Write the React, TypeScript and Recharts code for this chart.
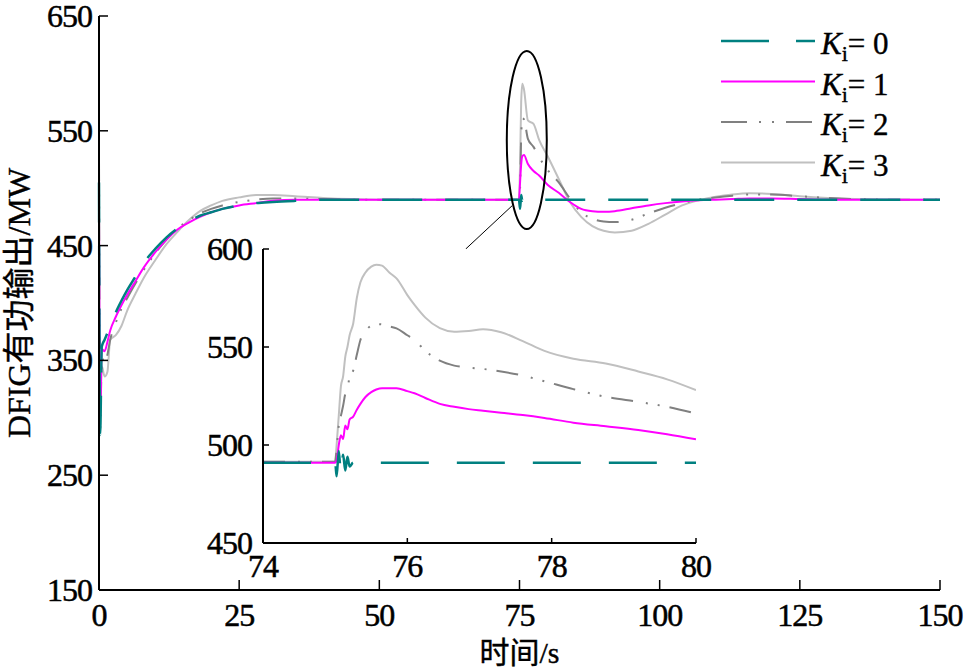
import React from 'react';
import { LineChart, Line, XAxis, YAxis, Legend, ReferenceDot, ReferenceLine, CartesianGrid } from 'recharts';

// 全程数据 (0-150 s)
const time = [0, 0.2, 0.5, 1, 1.5, 2, 3, 4, 5, 6.5, 8, 10, 12, 14, 16, 18, 20, 22, 25, 28, 31, 35, 40, 45, 50, 60, 70, 74.9, 75.1, 75.3, 75.5, 75.8, 76.5, 77.5, 78.5, 80, 82, 84, 86, 88, 90, 92, 95, 98, 101, 104, 107, 110, 113, 116, 120, 125, 130, 135, 140, 150];
const ki0 = [505, 285, 362, 368, 374, 380, 392, 402, 411, 423, 435, 447, 457, 465, 471, 476, 479, 482, 485, 487, 488, 489, 490, 490, 490, 490, 490, 490, 482, 494, 489, 490, 490, 490, 490, 490, 490, 490, 490, 490, 490, 490, 490, 490, 490, 490, 490, 490, 490, 490, 490, 490, 490, 490, 490, 490];
const ki1 = [480, 300, 360, 358, 366, 376, 388, 398, 407, 419, 431, 444, 455, 464, 470, 475, 479, 482, 485, 487, 489, 490, 490, 490, 490, 490, 490, 490, 505, 521, 528, 529, 521, 515, 511, 503, 496, 488, 482, 480, 479.5, 480, 482.5, 485, 487, 488.5, 489.5, 490, 490.5, 491, 491, 490.5, 490, 490, 490, 490];
const ki2 = [525, 290, 352, 348, 355, 368, 383, 395, 404, 417, 429, 443, 455, 465, 472, 478, 482, 485, 488, 490, 491, 491, 490.5, 490, 490, 490, 490, 490, 500, 545, 561, 560, 543, 536, 527, 516, 505, 491, 479, 473.5, 471, 470.5, 472.5, 478, 483, 487, 490, 492, 493.5, 494.5, 494.5, 493, 491.5, 490.5, 490, 490];
const ki3 = [530, 300, 345, 336, 340, 368, 372, 380, 393, 408, 422, 437, 451, 462, 472, 480, 485, 489, 492, 494, 494, 493, 491.5, 490.5, 490, 490, 490, 490, 520, 575, 591, 586, 559, 556, 542, 528, 508, 488, 475, 467, 463, 461.5, 463, 469, 477, 485, 489.5, 492.5, 494.5, 495.5, 495, 493, 491.5, 490.5, 490, 490];

// 局部放大数据 (74-80 s)
const insetTime = [74, 74.5, 75, 75.02, 75.05, 75.08, 75.11, 75.14, 75.17, 75.2, 75.25, 75.3, 75.35, 75.42, 75.5, 75.57, 75.65, 75.75, 75.85, 76, 76.1, 76.25, 76.45, 76.65, 76.85, 77.05, 77.3, 77.6, 77.9, 78.3, 78.75, 79.2, 79.6, 80];
const insetK0 = [491, 491, 491, 484, 497, 485, 495, 487, 494, 489, 491, 491, 491, 491, 491, 491, 491, 491, 491, 491, 491, 491, 491, 491, 491, 491, 491, 491, 491, 491, 491, 491, 491, 491];
const insetK1 = [491, 491, 491, 492, 500, 505, 503, 510, 508, 513, 514.5, 518, 521, 524.5, 527, 528.3, 529, 529, 529, 527.5, 526.4, 524, 521, 519.5, 518.3, 517.5, 516.5, 515.3, 513.8, 511.4, 509.6, 507.7, 505.5, 502.9];
const insetK2 = [491.5, 491.5, 491.5, 498, 510, 515, 520, 526, 528, 535, 538, 546, 553.6, 558, 561, 561.7, 561.5, 560.5, 559.5, 556, 553.6, 548, 543, 540.5, 539.5, 538.8, 537.5, 535.4, 532.5, 528.5, 524.6, 522, 519.5, 516];
const insetK3 = [491.5, 491.5, 491.5, 500, 515, 530, 535, 545, 550, 556, 562, 575, 583, 588, 591, 592, 591.5, 588, 585, 576.5, 571.5, 565, 559.6, 557.8, 558.2, 559, 557.5, 553, 548, 544, 541.6, 537.5, 533.5, 528];

const mainTicksX = [0, 25, 50, 75, 100, 125, 150];
const mainTicksY = [150, 250, 350, 450, 550, 650];
const insetTicksX = [74, 76, 78, 80];
const insetTicksY = [450, 500, 550, 600];
const kiLabels = ['0', '1', '2', '3'];

const mainData = time.map((t, i) => ({ t, k0: ki0[i], k1: ki1[i], k2: ki2[i], k3: ki3[i] }));
const insetData = insetTime.map((t, i) => ({ t, k0: insetK0[i], k1: insetK1[i], k2: insetK2[i], k3: insetK3[i] }));

const FONT = '"Times New Roman", "Liberation Serif", "Noto Sans CJK SC", serif';
const styles = [
  { key: 'k0', color: '#008080', dash: '40 23', insetDash: '48 28', legendDash: '48 27', w: 2.5 },
  { key: 'k1', color: '#ff00ff', dash: undefined, insetDash: undefined, legendDash: undefined, w: 2 },
  { key: 'k2', color: '#808080', dash: '22 13 2 10 2 10', insetDash: '22 13 2 10 2 10', legendDash: '26 12 2 11 2 12', w: 2 },
  { key: 'k3', color: '#c0c0c0', dash: undefined, insetDash: undefined, legendDash: undefined, w: 2 },
];

const makeXTick = (len: number, off: number) => (props: any) => {
  const { x, y, payload } = props;
  return (
    <g>
      <line x1={x} y1={y} x2={x} y2={y - len} stroke="#000" strokeWidth={1.5} />
      <text x={x} y={y + off} textAnchor="middle" fontFamily={FONT} fontSize={32} letterSpacing={-1} fill="#000" stroke="#000" strokeWidth={0.5}>
        {payload.value}
      </text>
    </g>
  );
};

const makeYTick = (len: number, off: number) => (props: any) => {
  const { x, y, payload } = props;
  return (
    <g>
      <line x1={x} y1={y} x2={x + len} y2={y} stroke="#000" strokeWidth={1.5} />
      <text x={x - off} y={y + 11} textAnchor="end" fontFamily={FONT} fontSize={32} letterSpacing={-1} fill="#000" stroke="#000" strokeWidth={0.5}>
        {payload.value}
      </text>
    </g>
  );
};

const renderLegend = () => (
  <svg width={200} height={170}>
    {styles.map((s, i) => {
      const y = 21 + i * 40.5;
      return (
        <g key={s.key}>
          <line x1={5} y1={y} x2={99} y2={y} stroke={s.color} strokeWidth={s.w} strokeDasharray={s.legendDash} />
          <text x={105} y={y + 13} fontFamily={FONT} fontSize={31} fill="#000" stroke="#000" strokeWidth={0.4}>
            <tspan fontStyle="italic">K</tspan>
            <tspan fontSize={22} dy={7}>i</tspan>
            <tspan dy={-7}>= {kiLabels[i]}</tspan>
          </text>
        </g>
      );
    })}
  </svg>
);

const axisLine = { stroke: '#000', strokeWidth: 2 };

export default function App() {
  return (
    <div style={{ position: 'absolute', left: 0, top: 0, width: 964, height: 671, background: '#fff' }}>
      <LineChart width={964} height={671} data={mainData} margin={{ top: 16, right: 24, bottom: 41, left: 39 }}>
        <XAxis
          dataKey="t"
          type="number"
          domain={[0, 150]}
          ticks={mainTicksX}
          interval={0}
          tickLine={false}
          tickSize={0}
          tickMargin={0}
          height={40}
          axisLine={axisLine}
          tick={makeXTick(10, 36)}
          label={{
            content: (p: any) => {
              const vb = p.viewBox;
              return (
                <text x={vb.x + vb.width / 2} y={vb.y + 62} textAnchor="middle" dominantBaseline="central" fontFamily={FONT} fontSize={30} fill="#000" stroke="#000" strokeWidth={0.4}>
                  时间/s
                </text>
              );
            },
          }}
        />
        <XAxis xAxisId="top" orientation="top" dataKey="t" type="number" domain={[0, 150]} tick={false} tickLine={false} height={0} axisLine={axisLine} />
        <YAxis
          type="number"
          domain={[150, 650]}
          ticks={mainTicksY}
          interval={0}
          tickLine={false}
          tickSize={0}
          tickMargin={0}
          width={60}
          axisLine={axisLine}
          tick={makeYTick(9, 7)}
          label={{
            content: (p: any) => {
              const vb = p.viewBox;
              const cx = vb.x - 20;
              const cy = vb.y + vb.height / 2;
              return (
                <text x={cx} y={cy} transform={`rotate(-90, ${cx}, ${cy})`} textAnchor="middle" dominantBaseline="central" fontFamily={FONT} fontSize={32} fill="#000" stroke="#000" strokeWidth={0.4}>
                  DFIG有功输出/MW
                </text>
              );
            },
          }}
        />
        <YAxis yAxisId="right" orientation="right" type="number" domain={[150, 650]} tick={false} tickLine={false} width={0} axisLine={axisLine} />
        {[...styles].reverse().map((s) => (
          <Line
            key={s.key}
            dataKey={s.key}
            type="monotone"
            stroke={s.color}
            strokeWidth={s.w}
            strokeDasharray={s.dash}
            dot={false}
            activeDot={false}
            isAnimationActive={false}
          />
        ))}
        <ReferenceDot
          x={76.3}
          y={542}
          ifOverflow="visible"
          shape={(p: any) => <ellipse cx={p.cx} cy={p.cy} rx={20} ry={89} fill="none" stroke="#000" strokeWidth={2} />}
        />
        <ReferenceLine segment={[{ x: 65.4, y: 447 }, { x: 73.7, y: 484.8 }]} stroke="#000" strokeWidth={1} />
        <Legend
          layout="vertical"
          verticalAlign="middle"
          align="center"
          content={renderLegend}
          wrapperStyle={{ position: 'absolute', top: 20, left: 716, width: 200, height: 170 }}
        />
      </LineChart>

      <div style={{ position: 'absolute', left: 190, top: 220 }}>
        <LineChart width={530} height={380} data={insetData} margin={{ top: 29, right: 24, bottom: 20, left: 0 }}>
          <CartesianGrid fill="#fff" horizontal={false} vertical={false} />
          <XAxis
            dataKey="t"
            type="number"
            domain={[74, 80]}
            ticks={insetTicksX}
            interval={0}
            allowDataOverflow
            tickLine={false}
            tickSize={0}
            tickMargin={0}
            height={37}
            axisLine={axisLine}
            tick={makeXTick(5, 34)}
          />
          <XAxis xAxisId="top" orientation="top" dataKey="t" type="number" domain={[74, 80]} tick={false} tickLine={false} height={0} axisLine={axisLine} />
          <YAxis
            type="number"
            domain={[450, 600]}
            ticks={insetTicksY}
            interval={0}
            allowDataOverflow
            tickLine={false}
            tickSize={0}
            tickMargin={0}
            width={73}
            axisLine={axisLine}
            tick={makeYTick(6, 11)}
          />
          <YAxis yAxisId="right" orientation="right" type="number" domain={[450, 600]} tick={false} tickLine={false} width={0} axisLine={axisLine} />
          {[...styles].reverse().map((s) => (
            <Line
              key={s.key}
              dataKey={s.key}
              type="monotone"
              stroke={s.color}
              strokeWidth={s.w}
              strokeDasharray={s.insetDash}
              dot={false}
              activeDot={false}
              isAnimationActive={false}
            />
          ))}
        </LineChart>
      </div>
    </div>
  );
}
